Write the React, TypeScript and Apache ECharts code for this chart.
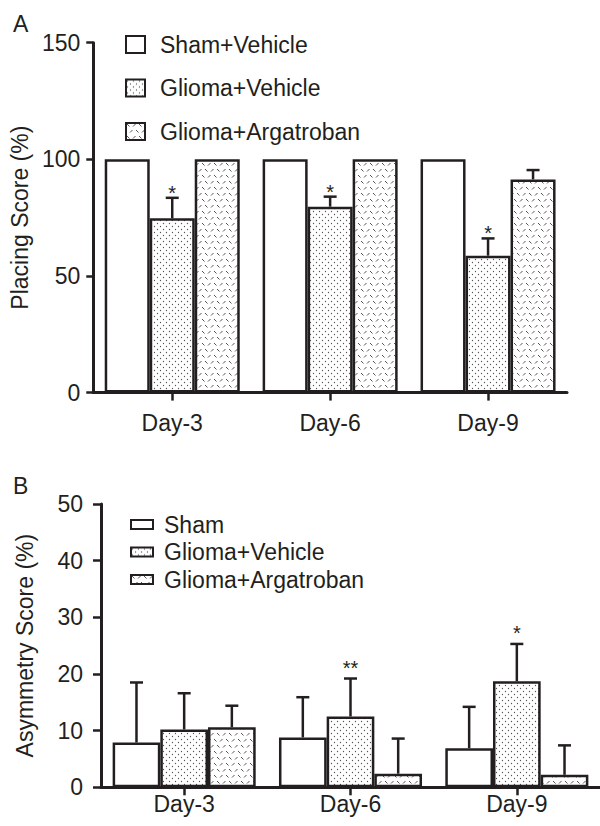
import React, { useEffect, useRef } from 'react';
import * as echarts from 'echarts';

const categories = ['Day-3', 'Day-6', 'Day-9'];
const namesA = ['Sham+Vehicle', 'Glioma+Vehicle', 'Glioma+Argatroban'];
const namesB = ['Sham', 'Glioma+Vehicle', 'Glioma+Argatroban'];

// Panel A: Placing Score (%)
const placingSham = [100, 100, 100];
const placingShamErr = [0, 0, 0];
const placingVehicle = [74.7, 79.7, 58.7];
const placingVehicleErr = [8.8, 4.3, 7.4];
const placingArgatroban = [100, 100, 91.4];
const placingArgatrobanErr = [0, 0, 4.0];
const placingVehicleSig = ['*', '*', '*'];

// Panel B: Asymmetry Score (%)
const asymSham = [7.9, 8.8, 6.9];
const asymShamErr = [10.6, 7.1, 7.3];
const asymVehicle = [10.2, 12.5, 18.7];
const asymVehicleErr = [6.4, 6.7, 6.6];
const asymArgatroban = [10.6, 2.4, 2.2];
const asymArgatrobanErr = [3.8, 6.2, 5.2];
const asymVehicleSig = ['', '**', '*'];

const INK = '#231f20';
const FONT = '"Liberation Sans", Arial, Helvetica, sans-serif';

function dotPattern() {
  const c = document.createElement('canvas');
  c.width = 6; c.height = 6;
  const g = c.getContext('2d')!;
  g.fillStyle = '#fff'; g.fillRect(0, 0, 6, 6);
  g.fillStyle = '#555';
  g.beginPath(); g.arc(1.5, 1.5, 0.65, 0, Math.PI * 2); g.fill();
  g.beginPath(); g.arc(4.5, 4.5, 0.65, 0, Math.PI * 2); g.fill();
  return { image: c, repeat: 'repeat', imageWidth: 6, imageHeight: 6 };
}

function dashPattern() {
  const c = document.createElement('canvas');
  c.width = 12; c.height = 12;
  const g = c.getContext('2d')!;
  g.fillStyle = '#fff'; g.fillRect(0, 0, 12, 12);
  g.strokeStyle = '#555'; g.lineWidth = 1;
  const seg = (a: number, b: number, cc: number, d: number) => { g.beginPath(); g.moveTo(a, b); g.lineTo(cc, d); g.stroke(); };
  seg(1, 1, 3.5, 3.5);
  seg(7, 3.5, 9.5, 1);
  seg(4, 9.5, 6.5, 7);
  seg(10, 7, 12, 9);
  seg(0, 9, 0.5, 9.5);
  return { image: c, repeat: 'repeat', imageWidth: 12, imageHeight: 12 };
}

function errSeries(means: number[], errs: number[], sigs: string[] | null, idx: number, axis: number, gap: number, lift: number) {
  return {
    type: 'custom',
    xAxisIndex: axis,
    yAxisIndex: axis,
    z: 5,
    silent: true,
    data: means.map((m, i) => [i, m, errs[i]]),
    encode: { x: 0, y: 1 },
    renderItem: (params: any, api: any) => {
      const i = params.dataIndex;
      const cat = api.value(0);
      const m = api.value(1);
      const e = api.value(2);
      const base = api.coord([cat, m]);
      const band = api.size([1, 0])[0];
      const gw = band * (1 - gap);
      const bw = gw / 3;
      const x = base[0] - gw / 2 + bw * (idx + 0.5);
      const children: any[] = [];
      let topY = base[1];
      if (e > 0) {
        topY = api.coord([cat, m + e])[1];
        children.push({ type: 'line', shape: { x1: x, y1: base[1], x2: x, y2: topY }, style: { stroke: INK, lineWidth: 2.5 } });
        children.push({ type: 'line', shape: { x1: x - 6.5, y1: topY, x2: x + 6.5, y2: topY }, style: { stroke: INK, lineWidth: 2.5 } });
      }
      if (sigs && sigs[i]) {
        children.push({ type: 'text', x, y: topY - lift, style: { text: sigs[i], fontSize: 20, fontFamily: FONT, fill: INK, align: 'center', verticalAlign: 'middle' } });
      }
      return { type: 'group', children };
    },
  };
}

export default function App() {
  const ref = useRef<HTMLDivElement>(null);
  useEffect(() => {
    if (!ref.current) return;
    const chart = echarts.init(ref.current, null, { renderer: 'svg' });
    const dots = dotPattern();
    const dashes = dashPattern();
    const colors = ['#ffffff', dots, dashes];
    const gapA = 0.145;
    const gapB = 0.14;
    const axisCommon = (margin: number) => ({
      axisLine: { show: true, lineStyle: { color: INK, width: 3 } },
      axisTick: { show: true, alignWithLabel: true, length: 8, lineStyle: { color: INK, width: 2.5 } },
      axisLabel: { fontSize: 23, color: INK, fontFamily: FONT, margin },
      splitLine: { show: false },
    });
    const bar = (name: string, data: number[], ci: number, axis: number, gap: number) => ({
      type: 'bar',
      name,
      xAxisIndex: axis,
      yAxisIndex: axis,
      data,
      barGap: '0%',
      barCategoryGap: (gap * 100).toFixed(1) + '%',
      itemStyle: { color: colors[ci], borderColor: INK, borderWidth: 2.5 },
    });
    const legendText = (pad: number) => ({ fontSize: 23, color: INK, fontFamily: FONT, padding: [0, 0, 0, pad] });
    chart.setOption({
      animation: false,
      backgroundColor: '#fff',
      title: [
        { text: 'A', left: 13, top: 12, padding: 0, textStyle: { fontSize: 23, fontWeight: 'normal', color: INK, fontFamily: FONT } },
        { text: 'B', left: 13, top: 474, padding: 0, textStyle: { fontSize: 23, fontWeight: 'normal', color: INK, fontFamily: FONT } },
      ],
      legend: [
        { data: namesA, orient: 'vertical', left: 120, top: 28, itemWidth: 19, itemHeight: 17, itemGap: 20.5, icon: 'rect', selectedMode: false, textStyle: legendText(10) },
        { data: namesB, orient: 'vertical', left: 125, top: 508, itemWidth: 22, itemHeight: 9, itemGap: 4.5, icon: 'rect', selectedMode: false, textStyle: legendText(6) },
      ],
      grid: [
        { left: 93, right: 33, top: 42.7, bottom: 433.4 },
        { left: 101, right: -4, top: 504, bottom: 38.7 },
      ],
      xAxis: [
        { type: 'category', gridIndex: 0, data: categories, ...axisCommon(19) },
        { type: 'category', gridIndex: 1, data: categories, ...axisCommon(5) },
      ],
      yAxis: [
        {
          type: 'value', gridIndex: 0, min: 0, max: 150, interval: 50, ...axisCommon(13),
          axisTick: { show: true, length: 7, lineStyle: { color: INK, width: 2.5 } },
          name: 'Placing Score (%)', nameLocation: 'middle', nameGap: 57,
          nameTextStyle: { fontSize: 23, color: INK, fontFamily: FONT },
        },
        {
          type: 'value', gridIndex: 1, min: 0, max: 50, interval: 10, ...axisCommon(18),
          axisTick: { show: true, length: 8, lineStyle: { color: INK, width: 2.5 } },
          name: 'Asymmetry Score (%)', nameLocation: 'middle', nameGap: 65,
          nameTextStyle: { fontSize: 23, color: INK, fontFamily: FONT },
        },
      ],
      series: [
        bar(namesA[0], placingSham, 0, 0, gapA),
        bar(namesA[1], placingVehicle, 1, 0, gapA),
        bar(namesA[2], placingArgatroban, 2, 0, gapA),
        bar(namesB[0], asymSham, 0, 1, gapB),
        bar(namesB[1], asymVehicle, 1, 1, gapB),
        bar(namesB[2], asymArgatroban, 2, 1, gapB),
        errSeries(placingSham, placingShamErr, null, 0, 0, gapA, 5),
        errSeries(placingVehicle, placingVehicleErr, placingVehicleSig, 1, 0, gapA, 5),
        errSeries(placingArgatroban, placingArgatrobanErr, null, 2, 0, gapA, 5),
        errSeries(asymSham, asymShamErr, null, 0, 1, gapB, 11),
        errSeries(asymVehicle, asymVehicleErr, asymVehicleSig, 1, 1, gapB, 11),
        errSeries(asymArgatroban, asymArgatrobanErr, null, 2, 1, gapB, 11),
      ],
    } as any);
    return () => chart.dispose();
  }, []);
  return <div ref={ref} style={{ position: 'absolute', left: 0, top: 0, width: 600, height: 826 }} />;
}
